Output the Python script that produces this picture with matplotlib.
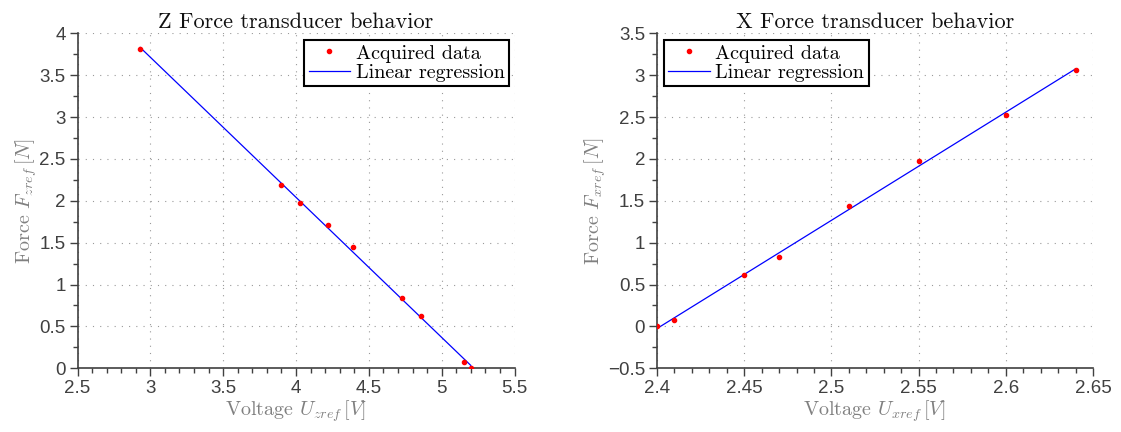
import numpy as np
import matplotlib
matplotlib.use("Agg")
import matplotlib.pyplot as plt
from matplotlib.ticker import MultipleLocator, FuncFormatter

# Z transducer calibration points
uz = [2.93, 3.90, 4.03, 4.22, 4.39, 4.73, 4.86, 5.15, 5.20]
fz = [3.81, 2.19, 1.97, 1.71, 1.45, 0.84, 0.62, 0.08, 0.00]

# X transducer calibration points
ux = [2.40, 2.41, 2.45, 2.47, 2.51, 2.55, 2.60, 2.64]
fx = [0.00, 0.08, 0.61, 0.83, 1.44, 1.97, 2.53, 3.06]

plt.rcParams["mathtext.fontset"] = "cm"
SERIF = "cmr10"
TICK_FONT = "Liberation Sans"

fig = plt.figure(figsize=(11.21, 4.32), dpi=100)

W, H = 1121, 432


def fmt(v, _pos):
    s = "%g" % round(v, 6)
    return s.replace("-", "\u2212")


def panel(rect, u, f, xlim, ylim, xmaj, xmin, ymaj, ymin, title, xlabel, ylabel, legloc, legbbox):
    l, b, w, h = rect
    ax = fig.add_axes([l / W, (H - b) / H, w / W, h / H])
    ax.plot(u, f, ".", color="red", ms=6, label="Acquired data", zorder=3)
    k, c = np.polyfit(u, f, 1)
    xs = np.array([min(u), max(u)])
    ax.plot(xs, k * xs + c, "-", color="blue", lw=0.9, label="Linear regression", zorder=2)
    ax.set_xlim(*xlim)
    ax.set_ylim(*ylim)
    ax.xaxis.set_major_locator(MultipleLocator(xmaj))
    ax.xaxis.set_minor_locator(MultipleLocator(xmin))
    ax.yaxis.set_major_locator(MultipleLocator(ymaj))
    ax.yaxis.set_minor_locator(MultipleLocator(ymin))
    ax.xaxis.set_major_formatter(FuncFormatter(fmt))
    ax.yaxis.set_major_formatter(FuncFormatter(fmt))
    for s in ("top", "right"):
        ax.spines[s].set_visible(False)
    for s in ("left", "bottom"):
        ax.spines[s].set_color("#404040")
        ax.spines[s].set_linewidth(1.2)
    ax.tick_params(which="major", direction="out", length=6, width=1.0, color="#404040",
                   labelsize=13.5, labelcolor="#404040", pad=2.6)
    ax.tick_params(which="minor", direction="out", length=3.6, width=1.0, color="#404040")
    for t in ax.get_xticklabels() + ax.get_yticklabels():
        t.set_fontfamily(TICK_FONT)
    ax.grid(True, which="major", linestyle=(0, (1, 5.5)), color="#9a9a9a", lw=0.8)
    ax.set_axisbelow(True)
    ax.set_title(title, fontfamily=SERIF, fontsize=16, color="#111111", pad=4)
    ax.set_xlabel(xlabel, fontfamily=SERIF, fontsize=14.5, color="#808080", labelpad=1)
    ax.set_ylabel(ylabel, fontfamily=SERIF, fontsize=14.5, color="#808080", labelpad=0)
    leg = ax.legend(loc=legloc, bbox_to_anchor=legbbox, prop={"family": SERIF, "size": 14.5},
                    fancybox=False, framealpha=1, edgecolor="black", handlelength=2.05,
                    borderpad=0.22, labelspacing=0.05, handletextpad=0.28, borderaxespad=0)
    leg.get_frame().set_linewidth(1.5)
    return ax


panel((77.5, 368.3, 437, 335), uz, fz, (2.5, 5.5), (0, 4), 0.5, 0.1, 0.5, 0.25,
      "Z Force transducer behavior", r"Voltage $U_{zref}\,[V]$", r"Force $F_{zref}\,[N]$",
      "upper right", ((509 - 77.5) / 437, (368.3 - 40) / 335))

panel((657, 368.3, 436, 335), ux, fx, (2.4, 2.65), (-0.5, 3.5), 0.05, 0.01, 0.5, 0.25,
      "X Force transducer behavior", r"Voltage $U_{xref}\,[V]$", r"Force $F_{xref}\,[N]$",
      "upper left", ((664 - 657) / 436, (368.3 - 40) / 335))

fig.savefig("out.png", dpi=100)
